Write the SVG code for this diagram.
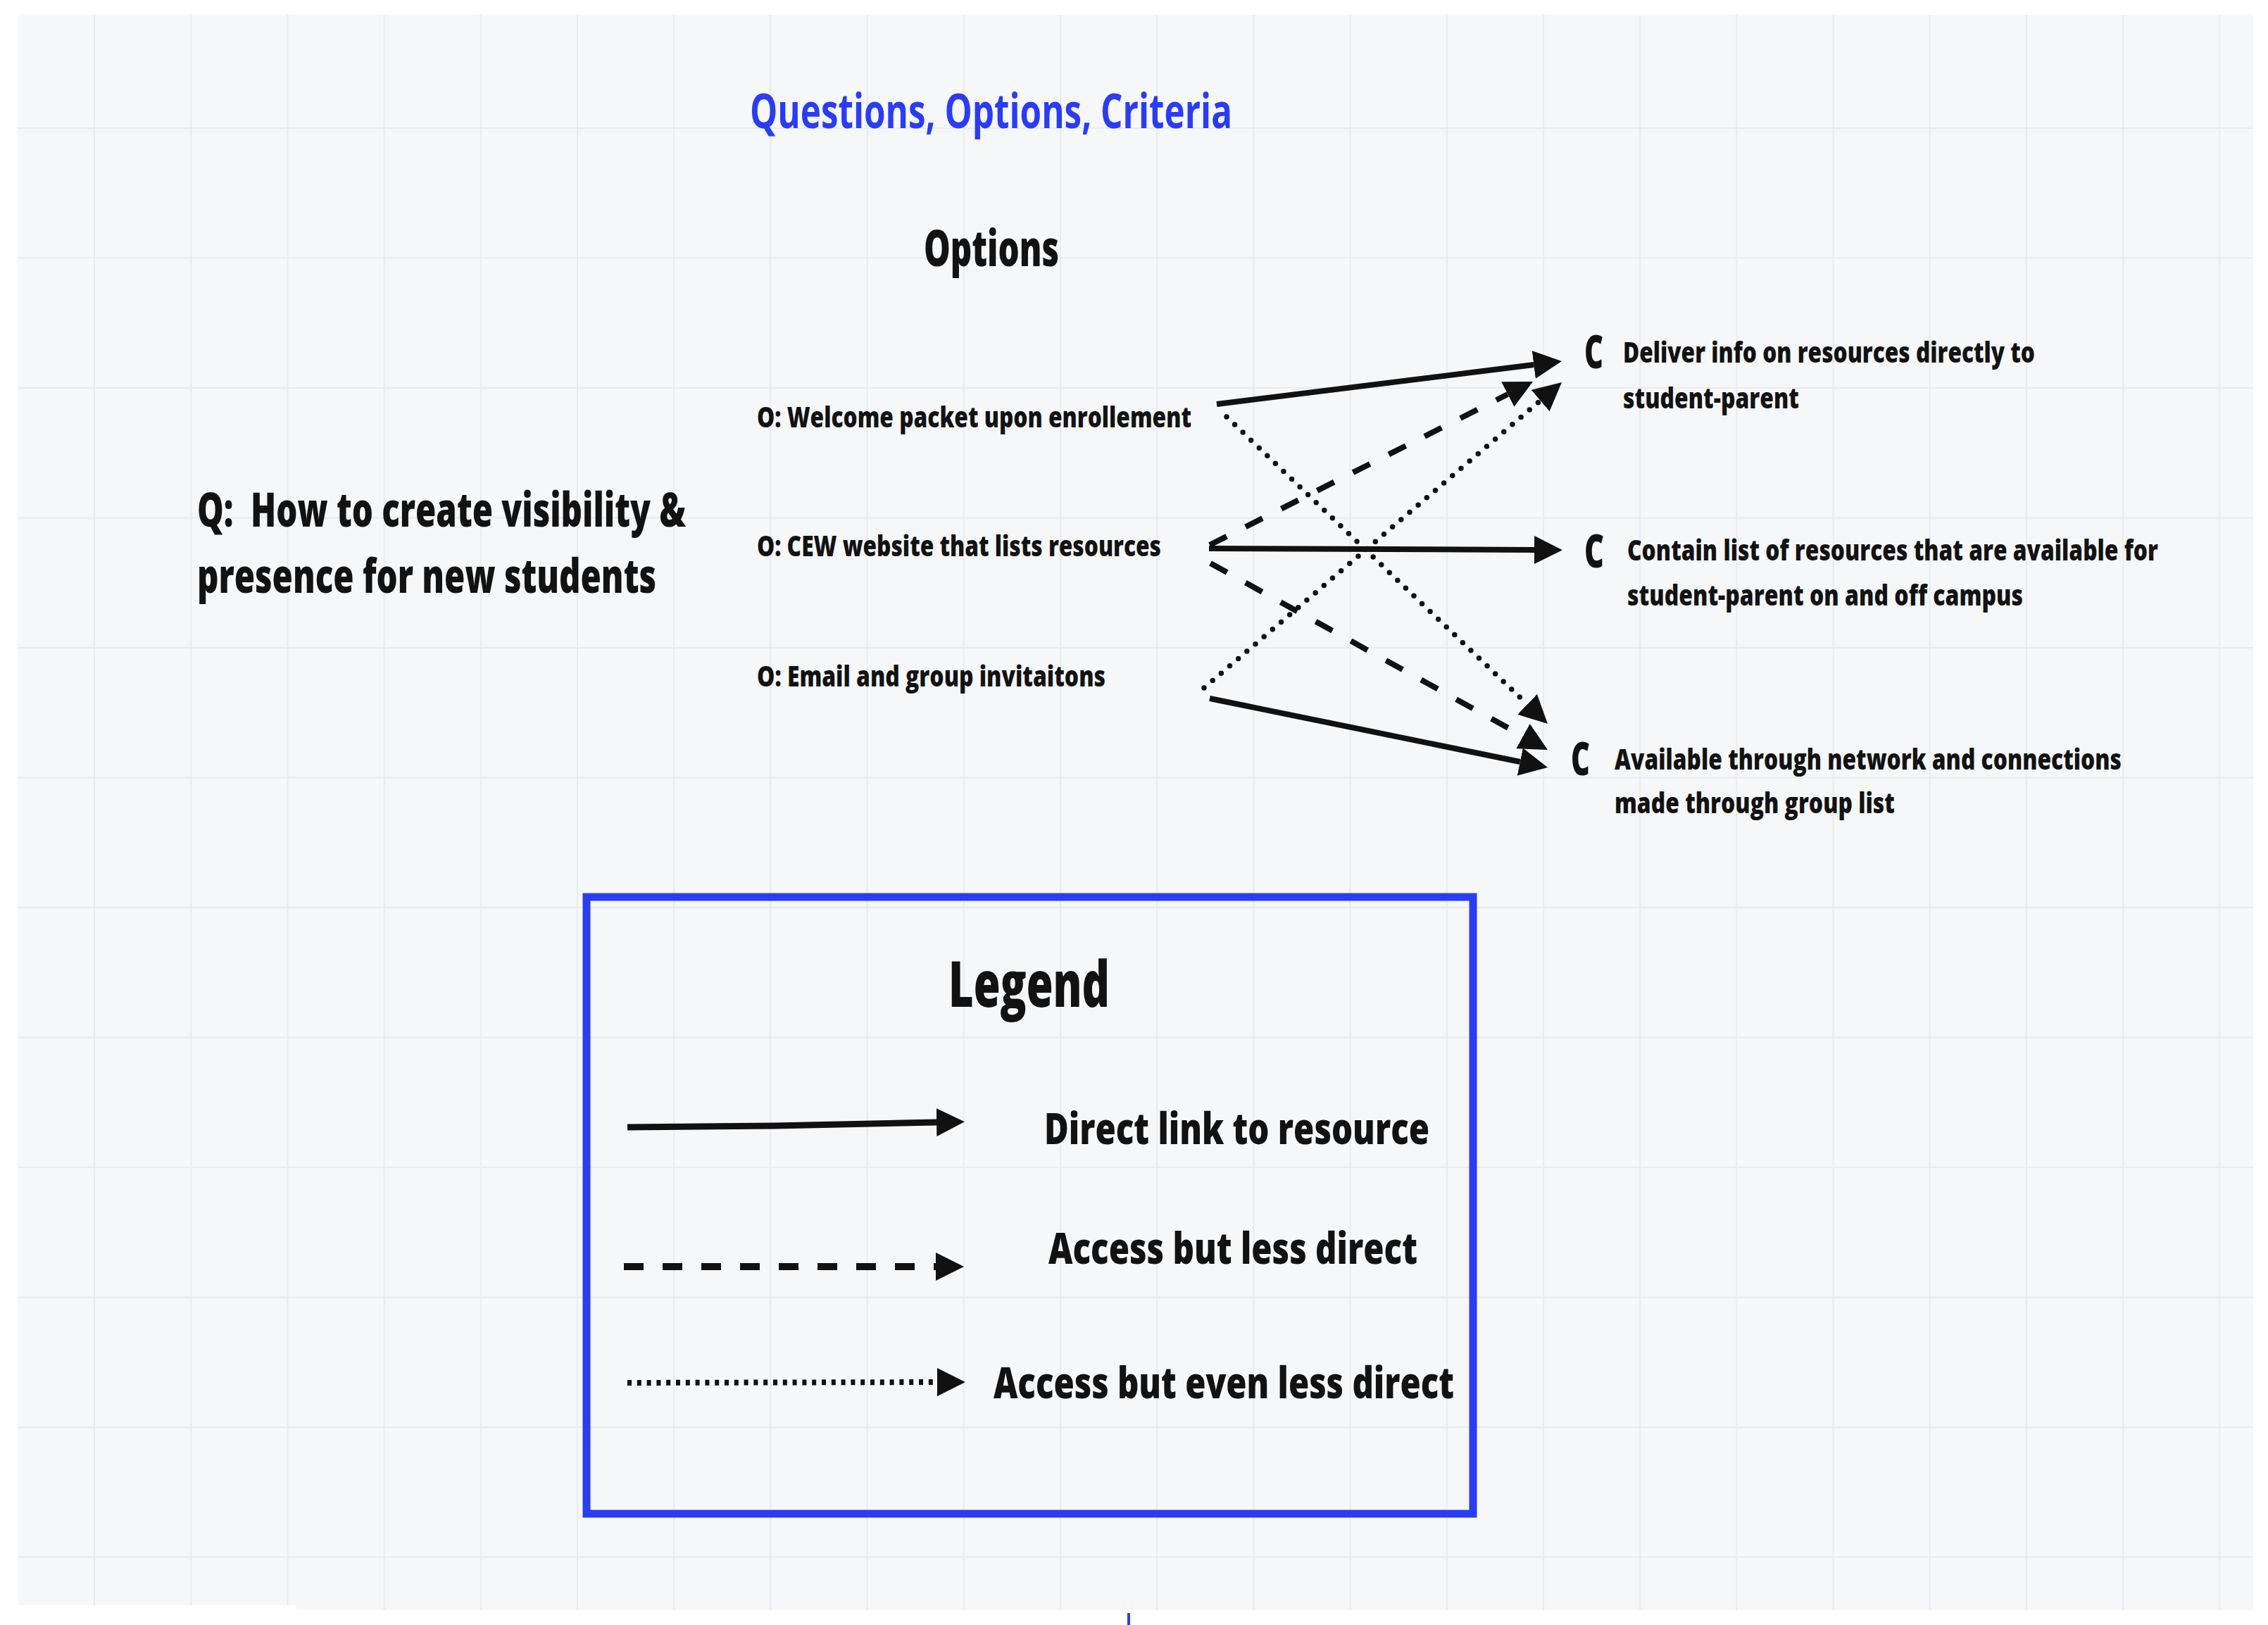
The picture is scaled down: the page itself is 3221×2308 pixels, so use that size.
<svg xmlns="http://www.w3.org/2000/svg" width="3221" height="2308" viewBox="0 0 3221 2308">
<style>
  text { font-family: "Open Sans", "Noto Sans", "Liberation Sans", sans-serif; font-weight: 800; fill: #121212; }
  .title { fill: #2a3cf4; font-size: 68px; font-weight: 700; }
  .h2 { font-size: 70px; }
  .q { font-size: 67px; }
  .opt { font-size: 40px; }
  .crit { font-size: 40px; }
  .cl { font-size: 65px; }
  .lg { font-size: 90px; }
  .lt { font-size: 62px; }
  .grid line { stroke: #e9ecef; stroke-width: 2; }
  .solid { fill: none; stroke: #111; stroke-width: 8; }
  .dashed { fill: none; stroke: #111; stroke-width: 8; stroke-dasharray: 27 30; }
  .dotted { fill: none; stroke: #111; stroke-width: 7.5; stroke-linecap: round; stroke-dasharray: 0 16; }
</style>
<defs>
  <marker id="ah" viewBox="0 0 40 40" refX="0" refY="20" markerWidth="40" markerHeight="40" markerUnits="userSpaceOnUse" orient="auto">
    <path d="M0,0 L40,20 L0,40 Z" fill="#111"/>
  </marker>
</defs>

<rect x="0" y="0" width="3221" height="2308" fill="#ffffff"/>
<rect x="25" y="21" width="3175" height="2266" fill="#f5f7f9"/>
<g class="grid">
  <line x1="134" y1="21" x2="134" y2="2287"/>
  <line x1="271.2" y1="21" x2="271.2" y2="2287"/>
  <line x1="408.4" y1="21" x2="408.4" y2="2287"/>
  <line x1="545.6" y1="21" x2="545.6" y2="2287"/>
  <line x1="682.8" y1="21" x2="682.8" y2="2287"/>
  <line x1="820" y1="21" x2="820" y2="2287"/>
  <line x1="957.2" y1="21" x2="957.2" y2="2287"/>
  <line x1="1094.4" y1="21" x2="1094.4" y2="2287"/>
  <line x1="1231.6" y1="21" x2="1231.6" y2="2287"/>
  <line x1="1368.8" y1="21" x2="1368.8" y2="2287"/>
  <line x1="1506" y1="21" x2="1506" y2="2287"/>
  <line x1="1643.2" y1="21" x2="1643.2" y2="2287"/>
  <line x1="1780.4" y1="21" x2="1780.4" y2="2287"/>
  <line x1="1917.6" y1="21" x2="1917.6" y2="2287"/>
  <line x1="2054.8" y1="21" x2="2054.8" y2="2287"/>
  <line x1="2192" y1="21" x2="2192" y2="2287"/>
  <line x1="2329.2" y1="21" x2="2329.2" y2="2287"/>
  <line x1="2466.4" y1="21" x2="2466.4" y2="2287"/>
  <line x1="2603.6" y1="21" x2="2603.6" y2="2287"/>
  <line x1="2740.8" y1="21" x2="2740.8" y2="2287"/>
  <line x1="2878" y1="21" x2="2878" y2="2287"/>
  <line x1="3015.2" y1="21" x2="3015.2" y2="2287"/>
  <line x1="3152.4" y1="21" x2="3152.4" y2="2287"/>
  <line x1="25" y1="182" x2="3200" y2="182"/>
  <line x1="25" y1="366.5" x2="3200" y2="366.5"/>
  <line x1="25" y1="551" x2="3200" y2="551"/>
  <line x1="25" y1="735.5" x2="3200" y2="735.5"/>
  <line x1="25" y1="920" x2="3200" y2="920"/>
  <line x1="25" y1="1104.5" x2="3200" y2="1104.5"/>
  <line x1="25" y1="1289" x2="3200" y2="1289"/>
  <line x1="25" y1="1473.5" x2="3200" y2="1473.5"/>
  <line x1="25" y1="1658" x2="3200" y2="1658"/>
  <line x1="25" y1="1842.5" x2="3200" y2="1842.5"/>
  <line x1="25" y1="2027" x2="3200" y2="2027"/>
  <line x1="25" y1="2211.5" x2="3200" y2="2211.5"/>
</g>
<rect x="25" y="2280" width="396" height="8" fill="#ffffff"/>
<rect x="1601" y="2291" width="4" height="17" fill="#2a3cf4"/>

<g id="title">
  <text class="title" x="1065" y="182" textLength="685" lengthAdjust="spacingAndGlyphs">Questions, Options, Criteria</text>
</g>
<g id="options-heading">
  <text class="h2" x="1312" y="378" textLength="192" lengthAdjust="spacingAndGlyphs">Options</text>
</g>
<g id="question">
  <text class="q" x="280" y="748" textLength="694" lengthAdjust="spacingAndGlyphs" xml:space="preserve">Q:  How to create visibility &amp;</text>
  <text class="q" x="280" y="842" textLength="652" lengthAdjust="spacingAndGlyphs">presence for new students</text>
</g>
<g id="option-welcome">
  <text class="opt" x="1075" y="607" textLength="617" lengthAdjust="spacingAndGlyphs">O: Welcome packet upon enrollement</text>
</g>
<g id="option-website">
  <text class="opt" x="1075" y="790" textLength="574" lengthAdjust="spacingAndGlyphs">O: CEW website that lists resources</text>
</g>
<g id="option-email">
  <text class="opt" x="1075" y="975" textLength="495" lengthAdjust="spacingAndGlyphs">O: Email and group invitaitons</text>
</g>
<g id="criterion-deliver">
  <text class="cl" x="2250" y="523" textLength="27" lengthAdjust="spacingAndGlyphs">C</text>
  <text class="crit" x="2305" y="515" textLength="585" lengthAdjust="spacingAndGlyphs">Deliver info on resources directly to</text>
  <text class="crit" x="2305" y="580" textLength="250" lengthAdjust="spacingAndGlyphs">student-parent</text>
</g>
<g id="criterion-contain">
  <text class="cl" x="2250" y="806" textLength="28" lengthAdjust="spacingAndGlyphs">C</text>
  <text class="crit" x="2311" y="796" textLength="754" lengthAdjust="spacingAndGlyphs">Contain list of resources that are available for</text>
  <text class="crit" x="2311" y="860" textLength="562" lengthAdjust="spacingAndGlyphs">student-parent on and off campus</text>
</g>
<g id="criterion-available">
  <text class="cl" x="2231" y="1101" textLength="27" lengthAdjust="spacingAndGlyphs">C</text>
  <text class="crit" x="2293" y="1093" textLength="720" lengthAdjust="spacingAndGlyphs">Available through network and connections</text>
  <text class="crit" x="2293" y="1155" textLength="398" lengthAdjust="spacingAndGlyphs">made through group list</text>
</g>

<g id="connectors">
  <path class="solid" d="M1728,574 L2178.3,518" marker-end="url(#ah)"/>
  <path class="dotted" d="M1742,592 L2169.1,1000.4" marker-end="url(#ah)"/>
  <path class="dashed" d="M1718,774 L2141.3,560" marker-end="url(#ah)"/>
  <path class="solid" d="M1717,779 L2179,781" marker-end="url(#ah)"/>
  <path class="dashed" d="M1719,800 L2163,1045.6" marker-end="url(#ah)"/>
  <path class="dotted" d="M1710,977 L2187.6,569" marker-end="url(#ah)"/>
  <path class="solid" d="M1718,992 L2158.8,1082" marker-end="url(#ah)"/>
</g>

<g id="legend">
  <rect x="833" y="1274" width="1259" height="876" fill="none" stroke="#2a3cf4" stroke-width="11"/>
  <text class="lg" x="1347" y="1430" textLength="229" lengthAdjust="spacingAndGlyphs">Legend</text>
  <path d="M891,1601 L1100,1599 L1330,1594" fill="none" stroke="#111" stroke-width="9" marker-end="url(#ah)"/>
  <text class="lt" x="1483" y="1625" textLength="547" lengthAdjust="spacingAndGlyphs">Direct link to resource</text>
  <path d="M886,1799 L1329,1799" fill="none" stroke="#111" stroke-width="10" stroke-dasharray="28 27" marker-end="url(#ah)"/>
  <text class="lt" x="1489" y="1795" textLength="524" lengthAdjust="spacingAndGlyphs">Access but less direct</text>
  <path d="M891,1964 L1331,1963" fill="none" stroke="#111" stroke-width="8" stroke-dasharray="6 7.8" marker-end="url(#ah)"/>
  <text class="lt" x="1411" y="1986" textLength="654" lengthAdjust="spacingAndGlyphs">Access but even less direct</text>
</g>
</svg>
